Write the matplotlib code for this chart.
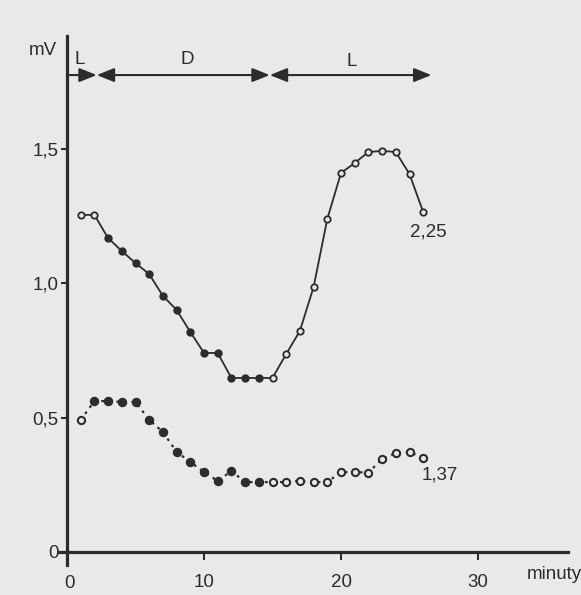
import matplotlib
matplotlib.use("Agg")
import matplotlib.pyplot as plt
import numpy as np

# ---- data ----
minutes = list(range(1, 27))
upper_mv = [1.253, 1.253, 1.167, 1.119, 1.074, 1.033, 0.952, 0.900, 0.818, 0.740,
            0.740, 0.647, 0.647, 0.647, 0.647, 0.736, 0.822, 0.985, 1.238, 1.409,
            1.446, 1.487, 1.491, 1.487, 1.405, 1.264]
lower_mv = [0.491, 0.561, 0.561, 0.558, 0.558, 0.491, 0.446, 0.372, 0.335, 0.297,
            0.264, 0.301, 0.260, 0.260, 0.260, 0.260, 0.264, 0.260, 0.260, 0.297,
            0.297, 0.295, 0.346, 0.368, 0.372, 0.349]
dark_start, dark_end, light_end = 2.17, 14.8, 26.6
phase_labels = ["L", "D", "L"]
yticks = [0, 0.5, 1.0, 1.5]
ytick_labels = ["0", "0,5", "1,0", "1,5"]
xticks = [0, 10, 20, 30]
xtick_labels = ["0", "10", "20", "30"]
end_labels = ["2,25", "1,37"]

ink = "#2c2c2c"
bg = "#e9e9eb"
plt.rcParams['font.family'] = ['Liberation Sans', 'DejaVu Sans']

fig = plt.figure(figsize=(5.81, 5.95), dpi=100, facecolor=bg)
ax = fig.add_axes([0, 0, 1, 1], facecolor=bg)
ax.set_xlim(-67 / 13.7, (581 - 67) / 13.7)
ax.set_ylim((552 - 595) / 269, 552 / 269)

# axes spines at data zero
for s in ["top", "right"]:
    ax.spines[s].set_visible(False)
ax.spines["left"].set_position(("data", 0))
ax.spines["bottom"].set_position(("data", 0))
ax.spines["left"].set_bounds(-0.05, 1.92)
ax.spines["bottom"].set_bounds(-0.6, 36.6)
for s in ["left", "bottom"]:
    ax.spines[s].set_linewidth(2.3)
    ax.spines[s].set_color(ink)
ax.set_yticks(yticks)
ax.set_yticklabels(ytick_labels)
ax.set_xticks(xticks[1:])
ax.set_xticklabels(xtick_labels[1:])
ax.tick_params(axis="y", direction="out", length=4, width=1.5, colors=ink,
               labelsize=13.5, pad=2)
ax.tick_params(axis="x", direction="out", length=6, width=1.5, colors=ink,
               labelsize=13.5, pad=10)
ax.text(xticks[0] + 0.2, -0.118, xtick_labels[0], ha="center", va="center",
        fontsize=13.5, color=ink)
ax.text(35.6, -0.085, "minuty", ha="center", va="center", fontsize=13.5, color=ink)
ax.text(-1.75, 1.866, "mV", ha="center", va="center", fontsize=13.5, color=ink)

m = np.array(minutes)
up = np.array(upper_mv)
lo = np.array(lower_mv)
dark = (m >= 3) & (m <= 14)
dark_lo = (m >= 2) & (m <= 14)

# upper curve
ax.plot(m, up, color=ink, lw=1.3, zorder=3)
ax.plot(m[dark], up[dark], ls="none", marker="o", ms=5, mfc=ink, mec=ink, zorder=4)
ax.plot(m[~dark], up[~dark], ls="none", marker="o", ms=4.6, mfc=bg, mec=ink,
        mew=1.3, zorder=4)

# lower curve
ax.plot(m, lo, color=ink, lw=1.6, ls=(0, (1.2, 2.2)), zorder=3)
ax.plot(m[dark_lo], lo[dark_lo], ls="none", marker="o", ms=5.8, mfc=ink, mec=ink, zorder=4)
ax.plot(m[~dark_lo], lo[~dark_lo], ls="none", marker="o", ms=5.2, mfc=bg, mec=ink,
        mew=1.5, zorder=4)

ax.text(26.4, 1.19, end_labels[0], ha="center", va="center", fontsize=13.5, color=ink)
ax.text(27.2, 0.286, end_labels[1], ha="center", va="center", fontsize=13.5, color=ink)

# light/dark phase arrows
yb = 1.773
ap = dict(color=ink, lw=1.5, shrinkA=0, shrinkB=0, mutation_scale=14)
ax.annotate("", xy=(dark_start, yb), xytext=(0, yb),
            arrowprops=dict(arrowstyle="-|>,head_length=0.75,head_width=0.3", **ap))
ax.annotate("", xy=(dark_end, yb), xytext=(dark_start, yb),
            arrowprops=dict(arrowstyle="<|-|>,head_length=0.75,head_width=0.3", **ap))
ax.annotate("", xy=(light_end, yb), xytext=(dark_end, yb),
            arrowprops=dict(arrowstyle="<|-|>,head_length=0.75,head_width=0.3", **ap))
ax.text(0.95, 1.83, phase_labels[0], ha="center", va="center", fontsize=13.5, color=ink)
ax.text(8.76, 1.83, phase_labels[1], ha="center", va="center", fontsize=13.5, color=ink)
ax.text(20.8, 1.825, phase_labels[2], ha="center", va="center", fontsize=13.5, color=ink)

fig.savefig("out.png", dpi=100, facecolor=bg)
